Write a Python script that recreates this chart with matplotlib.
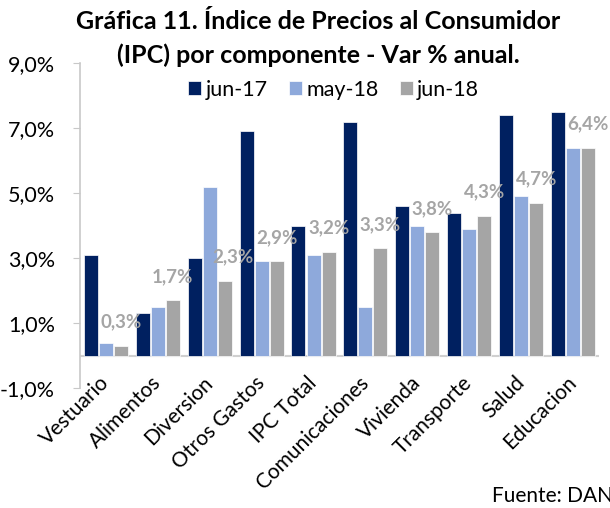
import matplotlib
matplotlib.use("Agg")
import matplotlib.pyplot as plt
import numpy as np

plt.rcParams["font.family"] = ["Lato", "DejaVu Sans"]

# datos (Var % anual)
categorias = ["Vestuario", "Alimentos", "Diversion", "Otros Gastos", "IPC Total",
              "Comunicaciones", "Vivienda", "Transporte", "Salud", "Educacion"]
jun17 = [3.1, 1.3, 3.0, 6.9, 4.0, 7.2, 4.6, 4.4, 7.4, 7.5]
may18 = [0.4, 1.5, 5.2, 2.9, 3.1, 1.5, 4.0, 3.9, 4.9, 6.4]
jun18 = [0.3, 1.7, 2.3, 2.9, 3.2, 3.3, 3.8, 4.3, 4.7, 6.4]
series = ["jun-17", "may-18", "jun-18"]
colores = ["#002060", "#8EA9DB", "#A5A5A5"]
yticks = [-1, 1, 3, 5, 7, 9]

fig = plt.figure(figsize=(6.1, 5.08), dpi=100)
ax = fig.add_axes([0.131, 0.236, 0.851, 0.640])

x = np.arange(len(categorias))
w = 0.27
for i, (vals, nombre, c) in enumerate(zip([jun17, may18, jun18], series, colores)):
    ax.bar(x + (i - 1) * (w + 0.02), vals, width=w, color=c, label=nombre,
           edgecolor="white", linewidth=0.5, zorder=3)

# etiquetas sobre jun-18 (la de Diversion algo corrida a la derecha)
for k, (xi, v) in enumerate(zip(x, jun18)):
    dx = 6 if categorias[k] == "Diversion" else 0
    ax.annotate(f"{v:.1f}%".replace(".", ","), (xi + (w + 0.02), v),
                xytext=(dx, 17), textcoords="offset points", ha="center", va="center",
                fontsize=13.5, fontweight="bold", color="#A5A5A5", zorder=4)

ax.set_xlim(-0.5, len(categorias) - 0.5)
ax.set_ylim(-1, 9)
ax.set_yticks(yticks)
ax.set_yticklabels([f"{t:.1f}%".replace(".", ",") for t in yticks], fontsize=15.5)
ax.axhline(0, color="#D0D0D0", linewidth=1.5, zorder=2)

for s in ["top", "right", "bottom"]:
    ax.spines[s].set_visible(False)
ax.spines["left"].set_color("#C8C8C8")
ax.spines["left"].set_linewidth(1.2)
ax.tick_params(axis="y", color="#C8C8C8", length=5, pad=13)
ax.tick_params(axis="x", length=0, pad=-6)
ax.set_xticks(x)
ax.set_xticklabels(categorias, rotation=45, ha="right", va="center",
                   rotation_mode="anchor", fontsize=15)

fig.text(0.522, 0.957, "Gráfica 11. Índice de Precios al Consumidor", ha="center",
         va="center", fontsize=18, fontweight="bold")
fig.text(0.522, 0.892, "(IPC) por componente - Var % anual.", ha="center",
         va="center", fontsize=18, fontweight="bold")

fig.legend(loc="center", bbox_to_anchor=(0.547, 0.823), ncol=3, frameon=False,
           fontsize=15.5, handlelength=0.6, handleheight=0.6, handletextpad=0.2,
           columnspacing=1.0)

fig.text(492 / 610, 0.003, "Fuente: DANE", fontsize=15, ha="left", va="bottom")

fig.savefig("out.png", dpi=100)
